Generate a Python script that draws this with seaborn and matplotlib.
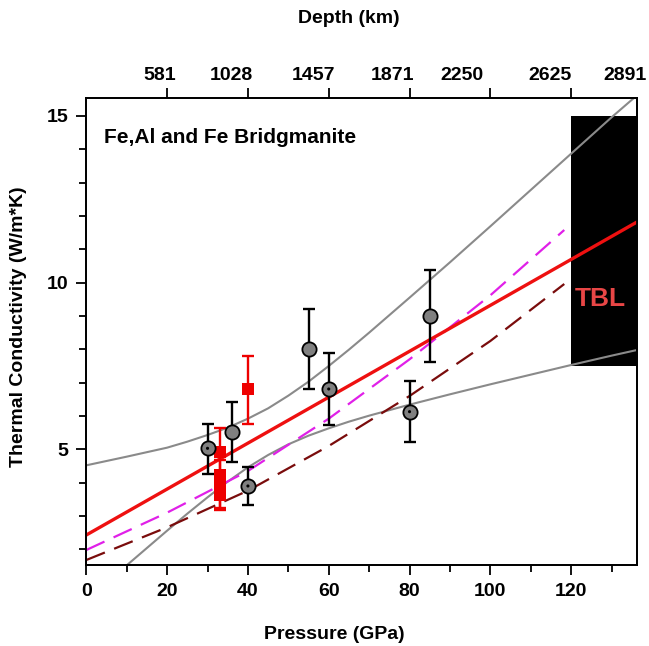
import numpy as np
import pandas as pd
import matplotlib
matplotlib.use("Agg")
import matplotlib.pyplot as plt
from matplotlib.ticker import MultipleLocator, FixedLocator
import seaborn as sns

# ---------------- data ----------------
# linear fit (red)
fit_p = [0, 136.3]
fit_k = [2.43, 11.82]

# grey band (upper / lower)
band_p = [0, 10, 20, 25, 30, 35, 40, 45, 50, 55, 60, 65, 70, 80, 90, 100, 110, 120, 130, 136.3]
band_hi = [4.52, 4.78, 5.05, 5.23, 5.43, 5.65, 5.92, 6.23, 6.61, 7.03, 7.50, 7.99, 8.50,
           9.55, 10.61, 11.69, 12.78, 13.87, 14.96, 15.62]
band_lo = [0.45, 1.52, 2.56, 3.07, 3.56, 4.03, 4.46, 4.83, 5.15, 5.41, 5.63, 5.83, 6.01,
           6.34, 6.65, 6.95, 7.24, 7.53, 7.81, 7.98]

# dashed model curves
model_p = [0, 20, 40, 60, 80, 100, 118.3]
magenta_k = [1.98, 3.10, 4.35, 5.92, 7.70, 9.62, 11.58]
darkred_k = [1.68, 2.66, 3.76, 5.10, 6.60, 8.25, 9.96]

# grey circles (plain)
circ_p = [36, 55, 85]
circ_k = [5.51, 8.01, 9.00]
circ_lo = [4.61, 6.82, 7.61]
circ_hi = [6.41, 9.20, 10.39]

# grey circles with centre dot
dot_p = [30, 40, 60, 80]
dot_k = [5.03, 3.90, 6.81, 6.13]
dot_lo = [4.27, 3.32, 5.73, 5.22]
dot_hi = [5.76, 4.48, 7.90, 7.04]

# red squares
sq_p = [33, 33, 33, 33, 40]
sq_k = [4.93, 4.24, 3.93, 3.62, 6.80]
sq_lo = [4.23, 4.12, 3.18, 3.25, 5.76]
sq_hi = [5.63, 4.36, 4.68, 3.99, 7.80]

# TBL box
tbl_p = [120, 136.3]
tbl_lo = 7.5
tbl_hi = 15.0

# top axis
depth_labels = ["581", "1028", "1457", "1871", "2250", "2625", "2891"]
depth_pos = [18.1, 36.0, 56.2, 75.7, 93.0, 114.8, 133.3]
top_ticks = [20, 40, 60, 80, 100, 120]

# ---------------- style ----------------
sns.set_theme(style="ticks")
plt.rcParams['font.family'] = ['Liberation Sans', 'DejaVu Sans']
plt.rcParams['font.weight'] = 'bold'
plt.rcParams['axes.labelweight'] = 'bold'
plt.rcParams['text.color'] = 'black'
plt.rcParams['axes.labelcolor'] = 'black'
plt.rcParams['xtick.color'] = 'black'
plt.rcParams['ytick.color'] = 'black'
plt.rcParams['xtick.labelcolor'] = 'black'
plt.rcParams['ytick.labelcolor'] = 'black'

fig = plt.figure(figsize=(6.49, 6.46), dpi=100)
ax = fig.add_axes([0.133, 0.1254, 0.8485, 0.7229])

XMAX = 136.3
ax.set_xlim(0, XMAX)
ax.set_ylim(1.53, 15.54)

grey = '#8a8a8a'
red = '#ee1010'

# TBL box
ax.fill_between(tbl_p, tbl_lo, tbl_hi, color='black', lw=0, zorder=1)
ax.text(127.3, 9.5, "TBL", color='#e84646', fontsize=19, fontweight='bold',
        ha='center', va='center', zorder=2)

# band
sns.lineplot(x=band_p, y=band_hi, ax=ax, color=grey, lw=1.5, sort=False, zorder=2)
sns.lineplot(x=band_p, y=band_lo, ax=ax, color=grey, lw=1.5, sort=False, zorder=2)

# dashed models
sns.lineplot(x=model_p, y=magenta_k, ax=ax, color='#e020e8', lw=1.6, zorder=3)
ax.lines[-1].set_dashes([9, 4.5])
sns.lineplot(x=model_p, y=darkred_k, ax=ax, color='#7a0c0c', lw=1.6, zorder=3)
ax.lines[-1].set_dashes([9, 4.5])

# fit
sns.lineplot(x=fit_p, y=fit_k, ax=ax, color=red, lw=2.4, zorder=4)

# error bars
def ebar(px, k, lo, hi, col, z):
    k = np.array(k); lo = np.array(lo); hi = np.array(hi)
    ax.errorbar(px, k, yerr=[k - lo, hi - k], fmt='none', ecolor=col,
                elinewidth=1.7, capsize=4.5, capthick=1.7, zorder=z)

ebar(sq_p, sq_k, sq_lo, sq_hi, '#ee0000', 5)
ebar(circ_p, circ_k, circ_lo, circ_hi, 'black', 5)
ebar(dot_p, dot_k, dot_lo, dot_hi, 'black', 5)

sns.scatterplot(x=sq_p, y=sq_k, ax=ax, marker='s', s=75, color='#ee0000',
                edgecolor='none', zorder=6)
sns.scatterplot(x=circ_p + dot_p, y=circ_k + dot_k, ax=ax, marker='o', s=105,
                color='#808080', edgecolor='black', linewidth=1.3, zorder=6)
sns.scatterplot(x=dot_p, y=dot_k, ax=ax, marker='o', s=5, color='black',
                edgecolor='none', zorder=7)

ax.text(4.3, 14.35, "Fe,Al and Fe Bridgmanite", fontsize=15, fontweight='bold',
        ha='left', va='center')

# axes styling
for s in ax.spines.values():
    s.set_linewidth(1.3)
    s.set_color('black')
ax.xaxis.set_major_locator(MultipleLocator(20))
ax.xaxis.set_minor_locator(MultipleLocator(10))
ax.yaxis.set_major_locator(FixedLocator([5, 10, 15]))
ax.yaxis.set_minor_locator(MultipleLocator(1))
ax.tick_params(axis='both', which='major', direction='out', length=7, width=1.3,
               labelsize=14, colors='black', pad=6)
ax.tick_params(axis='both', which='minor', direction='out', length=5, width=1.3)
ax.tick_params(top=False, right=False, which='both')
for lab in ax.get_xticklabels() + ax.get_yticklabels():
    lab.set_fontweight('bold')

ax.set_xlabel("Pressure (GPa)", fontsize=14, fontweight='bold')
ax.set_ylabel("Thermal Conductivity (W/m*K)", fontsize=14, fontweight='bold')
ax.xaxis.set_label_coords(0.45, -0.13)
ax.yaxis.set_label_coords(-0.108, 0.51)

# top axis
ax2 = ax.twiny()
ax2.set_xlim(0, XMAX)
ax2.xaxis.set_major_locator(FixedLocator(top_ticks))
ax2.xaxis.set_minor_locator(FixedLocator(depth_pos))
ax2.xaxis.set_major_formatter(plt.NullFormatter())
ax2.xaxis.set_minor_formatter(plt.FixedFormatter(depth_labels))
ax2.tick_params(axis='x', which='major', direction='out', length=7, width=1.3, colors='black')
ax2.tick_params(axis='x', which='minor', length=0, labelsize=14, pad=10, colors='black')
for lab in ax2.get_xticklabels(minor=True):
    lab.set_fontweight('bold')
ax2.set_xlabel("Depth (km)", fontsize=14, fontweight='bold')
ax2.xaxis.set_label_coords(0.477, 1.16)
for s in ax2.spines.values():
    s.set_linewidth(1.3)
    s.set_color('black')

fig.savefig("out.png", dpi=100)
